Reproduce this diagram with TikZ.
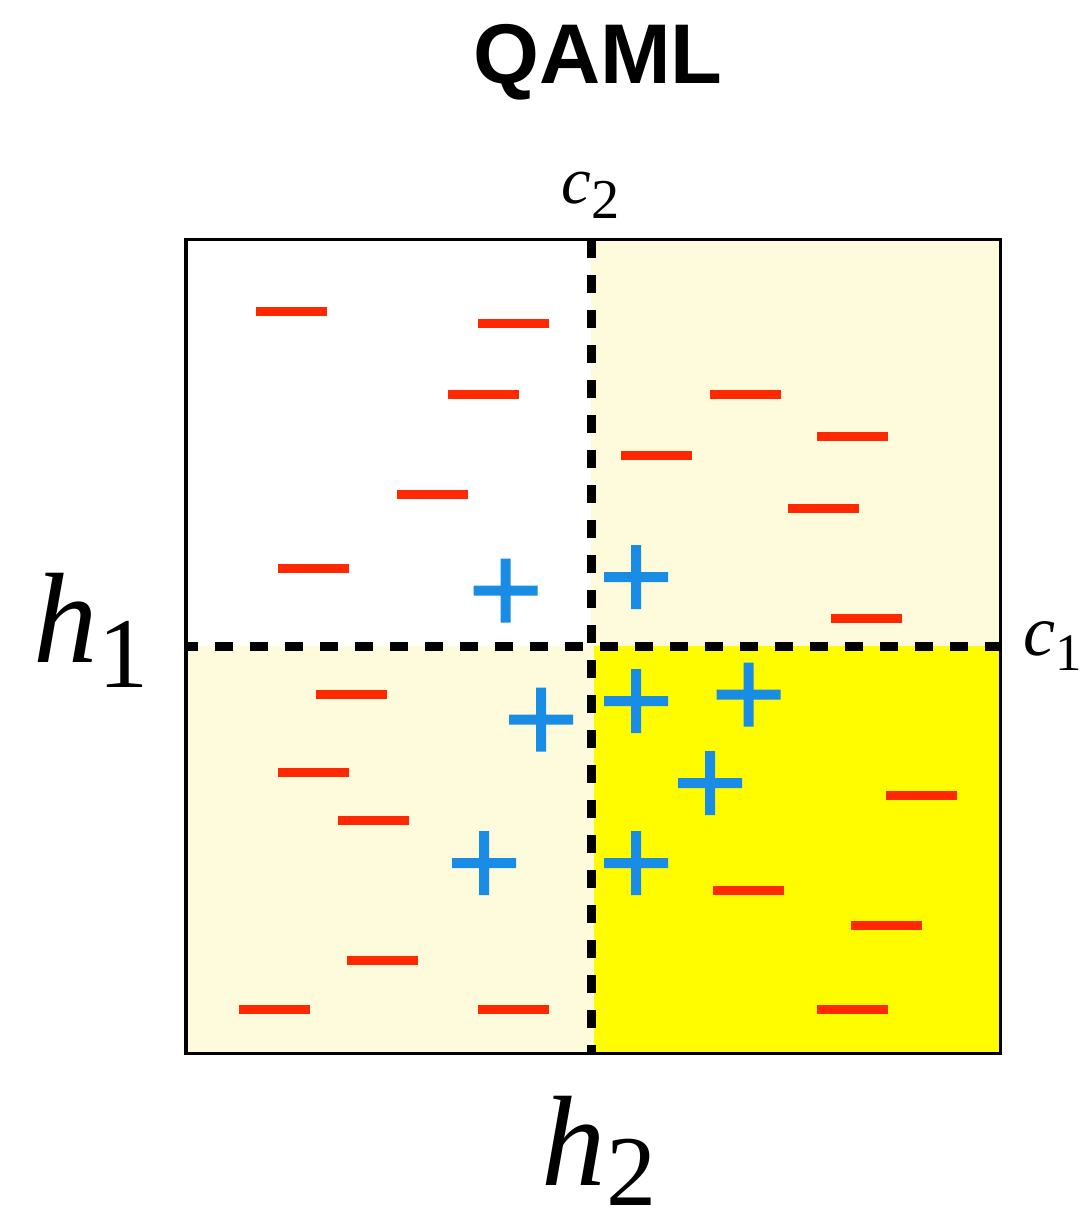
\documentclass[tikz,border=0pt]{standalone}
\usepackage{fontspec}
\setsansfont{Liberation Sans}
\newfontfamily\labelfont{Liberation Serif}
\usetikzlibrary{positioning}

\definecolor{negred}{RGB}{255,40,0}
\definecolor{posblue}{RGB}{25,140,230}
\definecolor{paleyellow}{RGB}{254,251,220}
\definecolor{brightyellow}{RGB}{255,252,0}

\begin{document}
\begin{tikzpicture}[x=0.01cm, y=-0.01cm,
    negmark/.pic={\fill[negred] (-35.5,-4.5) rectangle (35.5,4.5);},
    posmark/.pic={\fill[posblue] (-32,-5) rectangle (32,5) (-5,-32) rectangle (5,32);},
    splitline/.style={line width=0.09cm, dash pattern=on 0.175cm off 0.175cm},
    axislabel/.style={anchor=base west, inner sep=0pt}]
    \useasboundingbox (0,0) rectangle (1081,1211);

    % regions
    \fill[paleyellow] (591,239) rectangle (1000,646);
    \fill[paleyellow] (186,646) rectangle (594,1053);
    \fill[brightyellow] (594,646) rectangle (1000,1053);
    \draw[line width=0.03cm] (186,239) rectangle (1000,1053);

    % thresholds
    \draw[splitline, dash phase=0.06cm] (186,646) -- (1000,646);
    \draw[splitline] (591.5,240) -- (591.5,1053);

    % samples
    \foreach \mx/\my in {291.5/311, 513.5/323.5, 483.5/394.5, 432/494.5, 313.5/568.5,
                         745/394, 852.5/436, 656.5/455.5, 823/508, 866/618.5,
                         351.5/694.5, 313.5/772, 373/820.5, 382/960.5, 274/1009.5, 513/1009.5,
                         921.5/795, 748/890.5, 886/925.5, 852.5/1009.5}
        \pic at (\mx,\my) {negmark};
    \foreach \mx/\my in {505.5/590.5, 636/577, 541/719.5, 484/863,
                         636/701, 748.5/694.5, 710/783, 636/863}
        \pic at (\mx,\my) {posmark};

    % labels
    \node[anchor=base, inner sep=0pt, font=\sffamily\bfseries\fontsize{24.1}{29}\selectfont] (title) at (598,83) {QAML};
    \node[axislabel, font=\labelfont\fontsize{19}{22}\selectfont] (labC2) at (561,203)
        {\textit{c}\raisebox{-0.15cm}{\fontsize{16}{18}\selectfont 2}};
    \node[axislabel, font=\labelfont\fontsize{20.5}{22}\selectfont] (labC1) at (1023,655)
        {\textit{c}\raisebox{-0.15cm}{\fontsize{15}{18}\selectfont 1}};
    \node[axislabel, font=\labelfont\fontsize{36.6}{40}\selectfont] (labH1) at (33,662)
        {\textit{h}\raisebox{-0.25cm}{\fontsize{28.5}{30}\selectfont 1}};
    \node[axislabel, text depth=0pt, font=\labelfont\fontsize{36.6}{40}\selectfont] (labH2) at (541,1185)
        {\textit{h}\raisebox{-0.2cm}{\fontsize{28.5}{30}\selectfont 2}};
\end{tikzpicture}
\end{document}
